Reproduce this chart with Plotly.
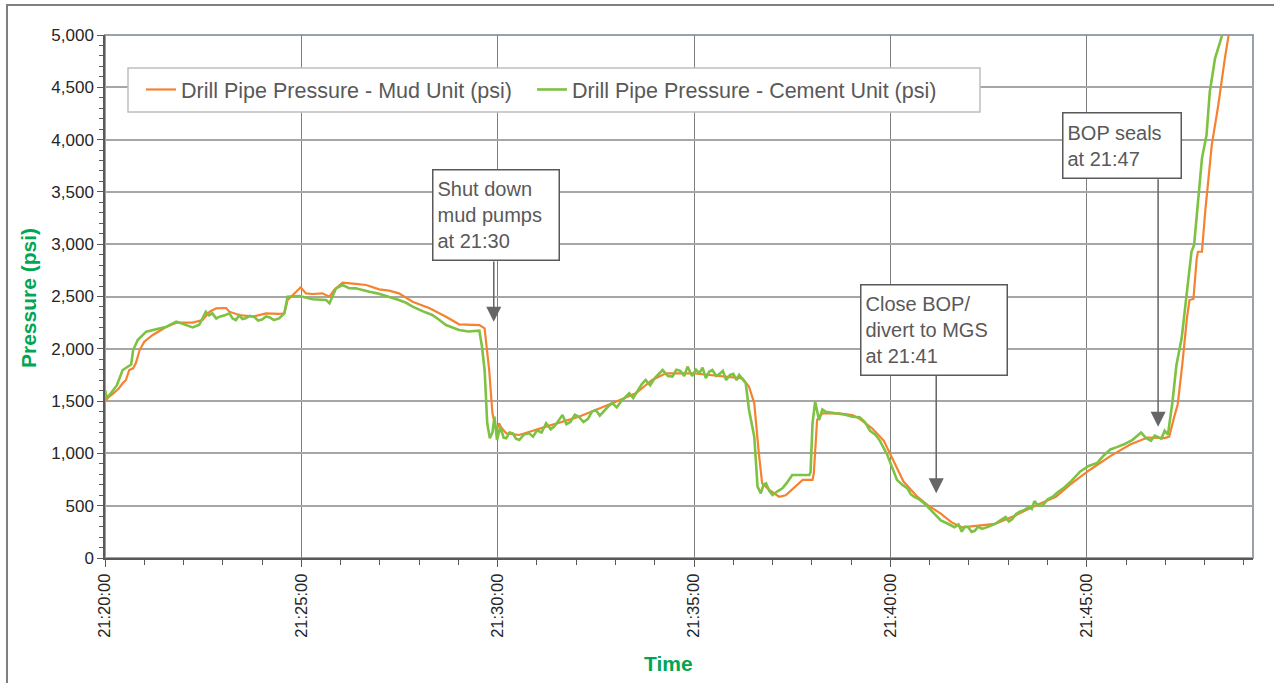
import plotly.graph_objects as go

DAY = "2010-04-20 "

# ---- Drill Pipe Pressure - Mud Unit (psi) ----
mud_time = [
    "21:20:00", "21:20:06", "21:20:12", "21:20:21", "21:20:27", "21:20:32", "21:20:37", "21:20:43",
    "21:20:47", "21:20:53", "21:21:00", "21:21:13", "21:21:34", "21:21:49", "21:22:14", "21:22:29",
    "21:22:40", "21:22:50", "21:23:05", "21:23:10", "21:23:25", "21:23:46", "21:24:06", "21:24:26",
    "21:24:34", "21:24:39", "21:24:47", "21:24:59", "21:25:07", "21:25:17", "21:25:32", "21:25:43",
    "21:25:50", "21:26:03", "21:26:23", "21:26:39", "21:26:59", "21:27:14", "21:27:29", "21:27:50",
    "21:28:16", "21:28:41", "21:29:01", "21:29:32", "21:29:40", "21:29:44", "21:29:47", "21:29:50",
    "21:29:52", "21:29:55", "21:29:58", "21:30:02", "21:30:05", "21:30:13", "21:30:33", "21:31:14",
    "21:32:04", "21:32:55", "21:33:31", "21:33:56", "21:34:17", "21:34:58", "21:35:38", "21:36:14",
    "21:36:24", "21:36:32", "21:36:39", "21:36:44", "21:36:55", "21:37:10", "21:37:20", "21:37:35",
    "21:37:46", "21:38:01", "21:38:03", "21:38:08", "21:38:16", "21:38:41", "21:39:02", "21:39:13",
    "21:39:32", "21:39:50", "21:40:05", "21:40:20", "21:40:41", "21:40:57", "21:41:17", "21:41:33",
    "21:41:49", "21:42:14", "21:42:40", "21:43:11", "21:43:43", "21:44:13", "21:44:34", "21:45:05",
    "21:45:36", "21:46:07", "21:46:33", "21:46:59", "21:47:06", "21:47:13", "21:47:19", "21:47:26",
    "21:47:33", "21:47:37", "21:47:43", "21:47:48", "21:47:50", "21:47:56", "21:48:01", "21:48:11",
    "21:48:21", "21:48:31", "21:48:37", "21:48:42",
]
mud_psi = [
    1500, 1540, 1568, 1620, 1670, 1702, 1797, 1813,
    1861, 1988, 2068, 2132, 2211, 2250, 2250, 2275,
    2355, 2387, 2390, 2355, 2323, 2307, 2339, 2333,
    2340, 2466, 2514, 2588, 2530, 2524, 2530, 2498,
    2562, 2632, 2620, 2610, 2568, 2556, 2530, 2450,
    2387, 2307, 2234, 2227, 2196, 1957, 1797, 1542,
    1383, 1300, 1220, 1288, 1250, 1192, 1176, 1256,
    1351, 1479, 1575, 1702, 1766, 1766, 1740, 1718,
    1638, 1479, 1001, 714, 650, 586, 600, 682,
    746, 746, 810, 1319, 1383, 1383, 1367, 1330,
    1240, 1120, 925, 731, 586, 505, 424, 343,
    294, 311, 327, 407, 505, 586, 699, 844,
    974, 1087, 1152, 1146, 1160, 1335, 1470, 1850,
    2291, 2466, 2476, 2865, 2928, 2928, 3311, 3948,
    4331, 4777, 5000, 5200,
]

# ---- Drill Pipe Pressure - Cement Unit (psi) ----
cement_time = [
    "21:20:00", "21:20:03", "21:20:06", "21:20:12", "21:20:18", "21:20:27", "21:20:35", "21:20:40",
    "21:20:43", "21:20:50", "21:21:03", "21:21:18", "21:21:34", "21:21:49", "21:22:04", "21:22:14",
    "21:22:24", "21:22:34", "21:22:39", "21:22:44", "21:22:50", "21:22:55", "21:23:03", "21:23:10",
    "21:23:15", "21:23:20", "21:23:25", "21:23:30", "21:23:35", "21:23:41", "21:23:48", "21:23:54",
    "21:24:00", "21:24:06", "21:24:12", "21:24:18", "21:24:26", "21:24:34", "21:24:39", "21:24:57",
    "21:25:17", "21:25:38", "21:25:43", "21:25:53", "21:26:03", "21:26:13", "21:26:23", "21:26:33",
    "21:26:44", "21:26:56", "21:27:09", "21:27:19", "21:27:29", "21:27:40", "21:27:50", "21:28:05",
    "21:28:20", "21:28:30", "21:28:41", "21:29:01", "21:29:15", "21:29:32", "21:29:36", "21:29:40",
    "21:29:44", "21:29:48", "21:29:52", "21:29:55", "21:29:59", "21:30:04", "21:30:09", "21:30:13",
    "21:30:18", "21:30:23", "21:30:28", "21:30:33", "21:30:40", "21:30:48", "21:30:54", "21:31:00",
    "21:31:07", "21:31:14", "21:31:21", "21:31:27", "21:31:33", "21:31:39", "21:31:45", "21:31:51",
    "21:31:58", "21:32:04", "21:32:11", "21:32:18", "21:32:24", "21:32:30", "21:32:36", "21:32:42",
    "21:32:49", "21:32:55", "21:33:02", "21:33:09", "21:33:15", "21:33:21", "21:33:27", "21:33:33",
    "21:33:40", "21:33:46", "21:33:53", "21:34:00", "21:34:06", "21:34:12", "21:34:20", "21:34:27",
    "21:34:33", "21:34:39", "21:34:45", "21:34:50", "21:34:57", "21:35:03", "21:35:08", "21:35:13",
    "21:35:18", "21:35:23", "21:35:28", "21:35:34", "21:35:39", "21:35:44", "21:35:49", "21:35:55",
    "21:36:00", "21:36:05", "21:36:09", "21:36:14", "21:36:19", "21:36:24", "21:36:32", "21:36:37",
    "21:36:42", "21:36:46", "21:36:50", "21:36:55", "21:37:00", "21:37:08", "21:37:15", "21:37:22",
    "21:37:30", "21:37:56", "21:37:58", "21:38:01", "21:38:05", "21:38:11", "21:38:16", "21:38:21",
    "21:38:31", "21:38:41", "21:38:51", "21:39:02", "21:39:13", "21:39:21", "21:39:29", "21:39:37",
    "21:39:44", "21:39:55", "21:40:05", "21:40:10", "21:40:18", "21:40:26", "21:40:31", "21:40:36",
    "21:40:44", "21:40:52", "21:41:00", "21:41:07", "21:41:17", "21:41:27", "21:41:38", "21:41:44",
    "21:41:49", "21:41:54", "21:41:59", "21:42:04", "21:42:09", "21:42:14", "21:42:20", "21:42:30",
    "21:42:40", "21:42:48", "21:42:56", "21:43:01", "21:43:06", "21:43:12", "21:43:17", "21:43:25",
    "21:43:32", "21:43:36", "21:43:40", "21:43:46", "21:43:53", "21:44:00", "21:44:08", "21:44:16",
    "21:44:24", "21:44:37", "21:44:50", "21:45:03", "21:45:16", "21:45:26", "21:45:36", "21:45:46",
    "21:45:57", "21:46:10", "21:46:23", "21:46:30", "21:46:38", "21:46:44", "21:46:49", "21:46:54",
    "21:46:59", "21:47:04", "21:47:11", "21:47:17", "21:47:25", "21:47:30", "21:47:35", "21:47:40",
    "21:47:44", "21:47:50", "21:47:56", "21:48:03", "21:48:08", "21:48:16", "21:48:24", "21:48:27",
    "21:48:33",
]
cement_psi = [
    1606, 1530, 1550, 1600, 1650, 1797, 1829, 1850,
    1988, 2084, 2164, 2186, 2211, 2260, 2227, 2205,
    2230, 2355, 2320, 2339, 2290, 2307, 2320, 2339,
    2290, 2275, 2320, 2285, 2291, 2315, 2305, 2270,
    2280, 2310, 2300, 2275, 2290, 2339, 2498, 2504,
    2473, 2466, 2435, 2578, 2610, 2580, 2578, 2560,
    2546, 2530, 2504, 2490, 2466, 2440, 2403, 2360,
    2323, 2280, 2227, 2180, 2165, 2173, 2020, 1797,
    1288, 1144, 1200, 1351, 1128, 1256, 1150, 1144,
    1200, 1192, 1140, 1128, 1180, 1192, 1160, 1220,
    1200, 1288, 1230, 1260, 1320, 1367, 1280, 1300,
    1370, 1351, 1300, 1330, 1400, 1415, 1360, 1400,
    1450, 1479, 1440, 1500, 1540, 1575, 1530, 1590,
    1660, 1702, 1650, 1720, 1760, 1797, 1740, 1734,
    1800, 1790, 1740, 1829, 1740, 1800, 1766, 1820,
    1720, 1780, 1797, 1740, 1760, 1790, 1702, 1750,
    1760, 1700, 1750, 1710, 1670, 1415, 1160, 682,
    618, 700, 714, 640, 602, 640, 666, 720,
    793, 793, 820, 1288, 1495, 1319, 1420, 1399,
    1390, 1383, 1370, 1351, 1346, 1300, 1216, 1180,
    1120, 990, 828, 747, 700, 666, 610, 586,
    560, 521, 470, 424, 359, 330, 294, 320,
    252, 300, 294, 250, 260, 300, 278, 300,
    327, 360, 391, 350, 370, 420, 440, 460,
    489, 470, 543, 500, 505, 560, 586, 630,
    666, 740, 828, 880, 909, 980, 1038, 1060,
    1087, 1130, 1200, 1150, 1120, 1170, 1152, 1140,
    1216, 1180, 1495, 1845, 2100, 2387, 2642, 2928,
    2992, 3406, 3821, 4044, 4458, 4777, 4936, 5000,
    5200,
]

series_names = ["Drill Pipe Pressure - Mud Unit (psi)", "Drill Pipe Pressure - Cement Unit (psi)"]
series_colors = ["#F5822F", "#7DC242"]

y_ticks = [0, 500, 1000, 1500, 2000, 2500, 3000, 3500, 4000, 4500, 5000]
y_ticktext = ["0", "500", "1,000", "1,500", "2,000", "2,500", "3,000", "3,500", "4,000", "4,500", "5,000"]

# annotation boxes: text, left time, top psi, width, height
notes = [
    ("Shut down<br>mud pumps<br>at 21:30", "21:28:19", 3716, 117, 81),
    ("Close BOP/<br>divert to MGS<br>at 21:41", "21:39:13", 2620, 137, 81),
    ("BOP seals<br>at 21:47", "21:44:22", 4267, 109, 56),
]
# arrows: time, tail psi, head psi
arrows = [
    ("21:29:54", 2849, 2259),
    ("21:41:10", 1759, 618),
    ("21:46:49", 3636, 1255),
]

FONT = "Liberation Sans, Arial, sans-serif"
TEXT_GRAY = "#595959"
GREEN_TITLE = "#00A651"
PW, PH, L, T = 1148, 523, 105, 35


def px(xp):
    return (xp - L) / PW


def py(yp):
    return (T + PH - yp) / PH


fig = go.Figure()
fig.add_trace(go.Scatter(x=[DAY + t for t in mud_time], y=mud_psi, mode="lines",
                         name=series_names[0], legendwidth=346,
                         line=dict(color=series_colors[0], width=2.2)))
fig.add_trace(go.Scatter(x=[DAY + t for t in cement_time], y=cement_psi, mode="lines",
                         name=series_names[1], legendwidth=400,
                         line=dict(color=series_colors[1], width=2.6)))

annotations = []
for text, t, top, w, h in notes:
    annotations.append(dict(
        x=DAY + t, y=top, xref="x", yref="y", xanchor="left", yanchor="top",
        text=text, showarrow=False, align="left", width=w, height=h, valign="middle",
        bordercolor=TEXT_GRAY, borderwidth=1.5, borderpad=4, bgcolor="white",
        font=dict(family=FONT, size=20, color=TEXT_GRAY)))
for t, tail, head in arrows:
    annotations.append(dict(
        x=DAY + t, y=head, ax=DAY + t, ay=tail, xref="x", yref="y", axref="x", ayref="y",
        text="", showarrow=True, arrowhead=2, arrowsize=2, arrowwidth=1.5,
        arrowcolor="#666666"))
annotations.append(dict(
    x=px(668.5), y=py(663), xref="paper", yref="paper",
    text="<b>Time</b>", showarrow=False, xanchor="center", yanchor="middle",
    font=dict(family=FONT, size=21, color=GREEN_TITLE)))
annotations.append(dict(
    x=px(28), y=py(298), xref="paper", yref="paper",
    text="<b>Pressure (psi)</b>", showarrow=False, textangle=-90,
    xanchor="center", yanchor="middle",
    font=dict(family=FONT, size=21, color=GREEN_TITLE)))

shapes = [
    # outer frame of the figure
    dict(type="rect", xref="paper", yref="paper", x0=px(7), x1=px(1290),
         y0=py(700), y1=py(5), line=dict(color="#7F7F7F", width=2), layer="below"),
    # plot border (top / right)
    dict(type="rect", xref="paper", yref="paper", x0=0, x1=1, y0=0, y1=1,
         line=dict(color="#9AA1A8", width=2), layer="below"),
    # legend box
    dict(type="rect", xref="paper", yref="paper", x0=px(128), x1=px(980),
         y0=py(112), y1=py(68), fillcolor="white",
         line=dict(color="#BFBFBF", width=1.5), layer="above"),
]

fig.update_layout(
    width=1274, height=683,
    margin=dict(l=L, r=1274 - L - PW, t=T, b=683 - T - PH),
    paper_bgcolor="white", plot_bgcolor="white",
    font=dict(family=FONT, size=17, color="#262626"),
    showlegend=True,
    legend=dict(orientation="h", x=px(141), y=py(69),
                xanchor="left", yanchor="top", bgcolor="rgba(0,0,0,0)",
                borderwidth=0,
                font=dict(family=FONT, size=21.5, color=TEXT_GRAY),
                itemwidth=30),
    annotations=annotations,
    shapes=shapes,
)
fig.update_xaxes(
    type="date", range=[DAY + "21:20:00", DAY + "21:49:14"],
    tick0=DAY + "21:20:00", dtick=300000, tickformat="%H:%M:%S", tickangle=-90,
    ticks="outside", ticklen=7, tickcolor="#595959", tickwidth=1,
    showgrid=True, gridcolor="#808080", gridwidth=1,
    showline=True, linecolor="#595959", linewidth=2,
    minor=dict(dtick=60000, tick0=DAY + "21:20:00", ticks="outside", ticklen=5,
               tickcolor="#595959", showgrid=False),
    tickfont=dict(family=FONT, size=16.5, color="#262626"),
    zeroline=False,
)
fig.update_yaxes(
    range=[0, 5000], tickvals=y_ticks, ticktext=y_ticktext,
    ticks="outside", ticklen=6, tickcolor="#595959", tickwidth=1,
    showgrid=True, gridcolor="#A6A6A6", gridwidth=1.5,
    showline=True, linecolor="#595959", linewidth=1.5,
    minor=dict(dtick=100, ticks="outside", ticklen=4, tickcolor="#595959", showgrid=False),
    tickfont=dict(family=FONT, size=17, color="#262626"),
    zeroline=False,
)

fig.write_html("out.html", config={"displayModeBar": False},
               post_script="document.body.style.margin='0px';")
